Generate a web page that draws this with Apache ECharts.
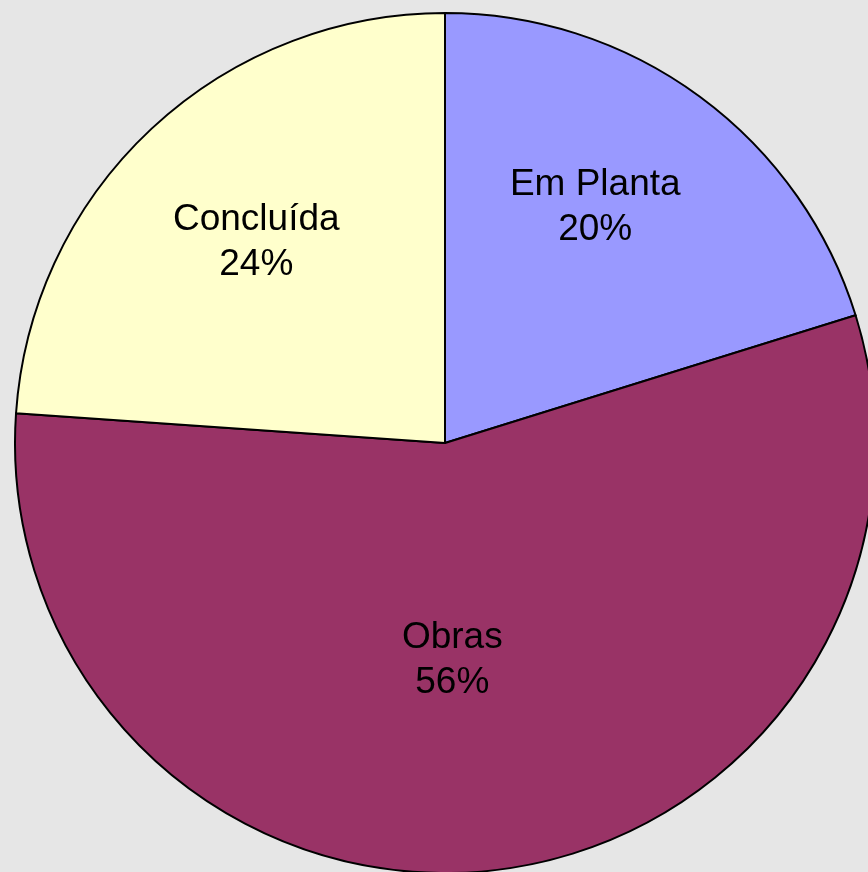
<!DOCTYPE html>
<html>
<head>
<meta charset="utf-8">
<script src="https://cdn.jsdelivr.net/npm/echarts@6/dist/echarts.min.js"></script>
<style>
html,body{margin:0;padding:0;background:#e6e6e6;}
#c{width:868px;height:872px;}
</style>
</head>
<body>
<div id="c"></div>
<script>
const categories = ['Em Planta', 'Obras', 'Concluída'];
const values = [20.2, 55.9, 23.9];
const colors = ['#9999FF', '#993366', '#FFFFCC'];
const labelOffsets = [[21, -60], [-18, 1], [-40, -41]];

const chart = echarts.init(document.getElementById('c'), null, {renderer: 'canvas'});
chart.setOption({
  backgroundColor: '#e6e6e6',
  animation: false,
  series: [{
    type: 'pie',
    center: [445, 443],
    radius: 430,
    startAngle: 90,
    clockwise: true,
    avoidLabelOverlap: false,
    percentPrecision: 0,
    itemStyle: {borderColor: '#000', borderWidth: 2},
    emphasis: {disabled: true},
    labelLine: {show: false},
    label: {
      show: true,
      position: 'inside',
      formatter: '{b}\n{d}%',
      fontFamily: 'Liberation Sans, Arial, sans-serif',
      fontSize: 37,
      lineHeight: 45,
      color: '#000',
      align: 'center'
    },
    data: categories.map((n, i) => ({
      name: n,
      value: values[i],
      itemStyle: {color: colors[i]},
      label: {offset: labelOffsets[i]}
    }))
  }]
});
</script>
</body>
</html>
